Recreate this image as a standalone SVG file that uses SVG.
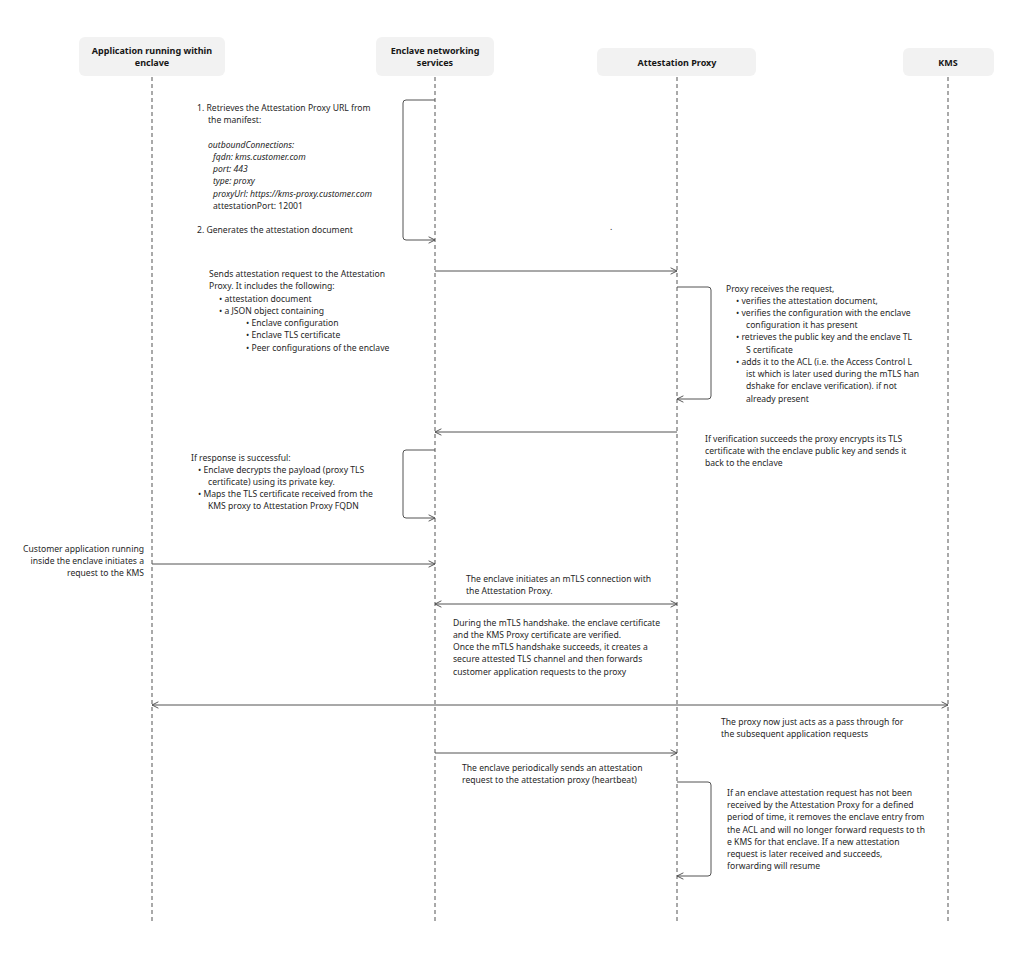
<svg xmlns="http://www.w3.org/2000/svg" width="1034" height="966" viewBox="0 0 1034 966">
<style>
.box{fill:#f2f2f2;stroke:none}
.h{font-family:"Noto Sans","Liberation Sans",sans-serif;font-size:9px;font-weight:bold;fill:#161616;text-anchor:middle}
.t{font-family:"Noto Sans","Liberation Sans",sans-serif;font-size:8.6px;fill:#262626}
.i{font-style:italic}
.life{stroke:#8d8d8d;stroke-width:1.5;stroke-dasharray:4,3;fill:none}
.c{stroke:#525252;stroke-width:1;fill:none}
</style>
<defs>
<marker id="a" viewBox="0 0 10 10" refX="9" refY="5" markerWidth="8" markerHeight="8" orient="auto-start-reverse" markerUnits="userSpaceOnUse"><path d="M1,1 L9,5 L1,9" fill="none" stroke="#525252" stroke-width="1.2"/></marker>
</defs>
<rect width="1034" height="966" fill="#fff"/>
<g id="lifelines">
<line class="life" x1="152" y1="77" x2="152" y2="922"/>
<line class="life" x1="435" y1="77" x2="435" y2="922"/>
<line class="life" x1="677" y1="77" x2="677" y2="922"/>
<line class="life" x1="948" y1="77" x2="948" y2="922"/>
</g>
<g id="n-app"><rect class="box" x="79" y="37" width="146" height="39" rx="6"/><text class="h" x="152" y="54">Application running within</text><text class="h" x="152" y="66">enclave</text></g>
<g id="n-ens"><rect class="box" x="376" y="37" width="118" height="39" rx="6"/><text class="h" x="435" y="54">Enclave networking</text><text class="h" x="435" y="66">services</text></g>
<g id="n-proxy"><rect class="box" x="597" y="48" width="159" height="28" rx="6"/><text class="h" x="677" y="66">Attestation Proxy</text></g>
<g id="n-kms"><rect class="box" x="903" y="48" width="91" height="28" rx="6"/><text class="h" x="948" y="66">KMS</text></g>
<g id="connectors">
<path class="c" d="M435,100 H406 Q403,100 403,103 V237 Q403,240 406,240 H435" marker-end="url(#a)"/>
<line class="c" x1="435" y1="271" x2="677" y2="271" marker-end="url(#a)"/>
<path class="c" d="M677,287 H708 Q711,287 711,290 V396 Q711,399 708,399 H677" marker-end="url(#a)"/>
<line class="c" x1="677" y1="432" x2="435" y2="432" marker-end="url(#a)"/>
<path class="c" d="M435,450 H406 Q403,450 403,453 V515 Q403,518 406,518 H435" marker-end="url(#a)"/>
<line class="c" x1="152" y1="564" x2="435" y2="564" marker-end="url(#a)"/>
<line class="c" x1="435" y1="604" x2="677" y2="604" marker-start="url(#a)" marker-end="url(#a)"/>
<line class="c" x1="152" y1="705" x2="948" y2="705" marker-start="url(#a)" marker-end="url(#a)"/>
<line class="c" x1="435" y1="753" x2="677" y2="753" marker-end="url(#a)"/>
<path class="c" d="M677,782 H708 Q711,782 711,785 V873 Q711,876 708,876 H677" marker-end="url(#a)"/>
</g>
<g id="labels">
<text class="t" x="197" y="111">1. Retrieves the Attestation Proxy URL from</text>
<text class="t" x="208" y="123">the manifest:</text>
<text class="t i" x="208" y="148">outboundConnections:</text>
<text class="t i" x="213" y="160">fqdn: kms.customer.com</text>
<text class="t i" x="213" y="172">port: 443</text>
<text class="t i" x="213" y="184">type: proxy</text>
<text class="t i" x="213" y="197">proxyUrl: https://kms-proxy.customer.com</text>
<text class="t" x="213" y="209">attestationPort: 12001</text>
<text class="t" x="197" y="233">2. Generates the attestation document</text>
<text class="t" x="610" y="230">.</text>
<text class="t" x="209" y="277">Sends attestation request to the Attestation</text>
<text class="t" x="209" y="289">Proxy. It includes the following:</text>
<text class="t" x="219" y="302">•  attestation document</text>
<text class="t" x="219" y="314">•  a JSON object containing</text>
<text class="t" x="246" y="326">•  Enclave configuration</text>
<text class="t" x="246" y="338">•  Enclave TLS certificate</text>
<text class="t" x="246" y="351">•  Peer configurations of the enclave</text>
<text class="t" x="726" y="292">Proxy receives the request,</text>
<text class="t" x="736" y="304">•  verifies the attestation document,</text>
<text class="t" x="736" y="316">•  verifies the configuration with the enclave</text>
<text class="t" x="746" y="328">configuration it has present</text>
<text class="t" x="736" y="340">•  retrieves the public key and the enclave TL</text>
<text class="t" x="746" y="353">S certificate</text>
<text class="t" x="736" y="365">•  adds it to the ACL (i.e. the Access Control L</text>
<text class="t" x="746" y="377">ist which is later used during the mTLS han</text>
<text class="t" x="746" y="389">dshake for enclave verification). if not</text>
<text class="t" x="746" y="402">already present</text>
<text class="t" x="705" y="442">If verification succeeds the proxy encrypts its TLS</text>
<text class="t" x="705" y="454">certificate with the enclave public key and sends it</text>
<text class="t" x="705" y="466">back to the enclave</text>
<text class="t" x="191" y="461">If response is successful:</text>
<text class="t" x="198" y="473">•  Enclave decrypts the payload (proxy TLS</text>
<text class="t" x="208" y="485">certificate) using its private key.</text>
<text class="t" x="198" y="497">•  Maps the TLS certificate received from the</text>
<text class="t" x="208" y="509">KMS proxy to Attestation Proxy FQDN</text>
<text class="t" x="144" y="552" text-anchor="end">Customer application running</text>
<text class="t" x="144" y="564" text-anchor="end">inside the enclave initiates a</text>
<text class="t" x="144" y="576" text-anchor="end">request to the KMS</text>
<text class="t" x="466" y="582">The enclave initiates an mTLS connection with</text>
<text class="t" x="466" y="594">the Attestation Proxy.</text>
<text class="t" x="453" y="626">During the mTLS handshake. the enclave certificate</text>
<text class="t" x="453" y="638">and the KMS Proxy certificate are verified.</text>
<text class="t" x="453" y="650">Once the mTLS handshake succeeds, it creates a</text>
<text class="t" x="453" y="662">secure attested TLS channel and then forwards</text>
<text class="t" x="453" y="675">customer application requests to the proxy</text>
<text class="t" x="721" y="725">The proxy now just acts as a pass through for</text>
<text class="t" x="721" y="737">the subsequent application requests</text>
<text class="t" x="462" y="771">The enclave periodically sends an attestation</text>
<text class="t" x="462" y="783">request to the attestation proxy (heartbeat)</text>
<text class="t" x="727" y="796">If an enclave attestation request has not been</text>
<text class="t" x="727" y="808">received by the Attestation Proxy for a defined</text>
<text class="t" x="727" y="820">period of time, it removes the enclave entry from</text>
<text class="t" x="727" y="833">the ACL and will no longer forward requests to th</text>
<text class="t" x="727" y="845">e KMS for that enclave. If a new attestation</text>
<text class="t" x="727" y="857">request is later received and succeeds,</text>
<text class="t" x="727" y="869">forwarding will resume</text>
</g>
</svg>
